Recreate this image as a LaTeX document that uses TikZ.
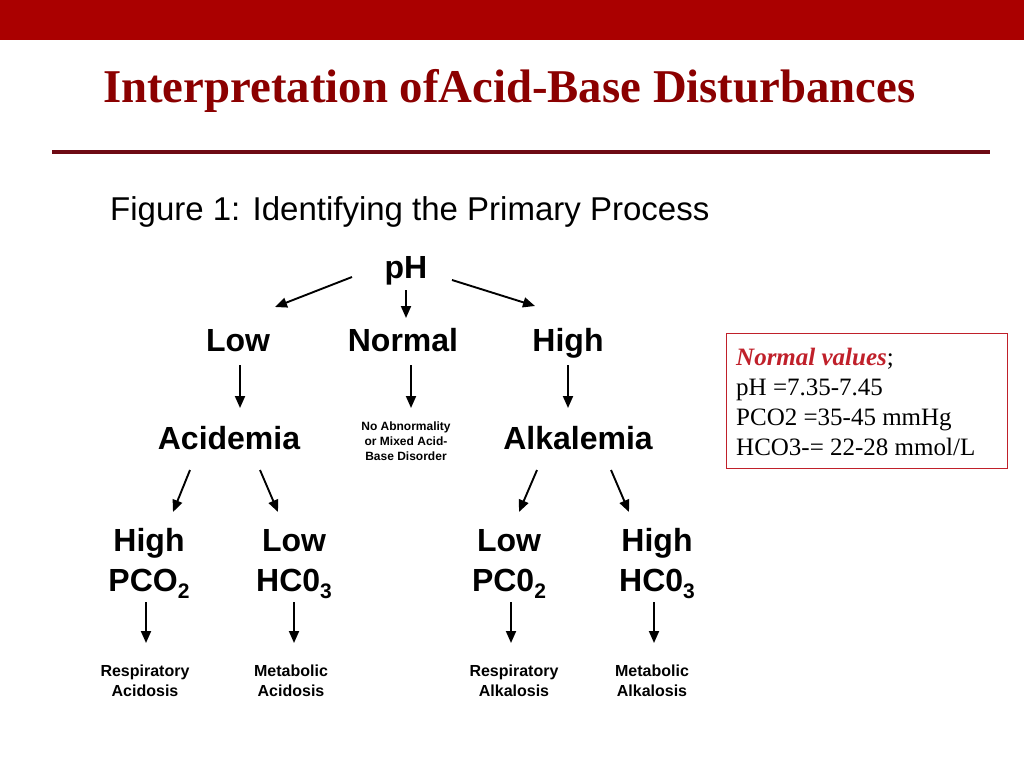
\documentclass[tikz,border=0pt]{standalone}
\usepackage{fontspec}
\setmainfont{Liberation Serif}
\newfontfamily\arialf{Liberation Sans}
\usetikzlibrary{arrows.meta,calc}
\definecolor{barred}{HTML}{AA0000}
\definecolor{titlered}{HTML}{8B0000}
\definecolor{rulered}{HTML}{6E0A14}
\definecolor{boxred}{HTML}{C0202A}
\begin{document}
\begin{tikzpicture}[x=1pt,y=-1pt,
  big/.style={font=\arialf\bfseries\fontsize{32}{32}\selectfont, inner sep=0pt, anchor=base},
  small/.style={font=\arialf\bfseries\fontsize{16}{16}\selectfont, inner sep=0pt, anchor=base},
  tiny/.style={font=\arialf\bfseries\fontsize{12}{12}\selectfont, inner sep=0pt, anchor=base},
  boxtxt/.style={font=\fontsize{25}{25}\selectfont, inner sep=0pt, anchor=base west},
  arr/.style={-{Triangle[length=12pt,width=10pt]}, line width=1.9pt, black}]
\useasboundingbox (0,0) rectangle (1024,768);
\fill[white] (0,0) rectangle (1024,768);
\fill[barred] (0,0) rectangle (1024,40);
\node[anchor=base west, inner sep=0pt, text=titlered, font=\bfseries\fontsize{47}{47}\selectfont] (title) at (103,102) {\scalebox{0.995}[1]{Interpretation ofAcid-Base Disturbances}};
\draw[rulered, line width=4pt] (52,152) -- (990,152);
\node[anchor=base west, inner sep=0pt, font=\arialf\fontsize{33}{33}\selectfont] (fig) at (110,220) {Figure 1: Identifying the Primary Process};
% tree nodes
\node[big] (ph) at (406,278) {pH};
\node[big] (low) at (238,351) {Low};
\node[big] (normal) at (403,351) {Normal};
\node[big] (high) at (568,351) {High};
\node[big] (acid) at (229,449) {Acidemia};
\node[big] (alk) at (578,449) {Alkalemia};
\node[tiny] (na1) at (406,430) {No Abnormality};
\node[tiny] (na2) at (406,445) {or Mixed Acid-};
\node[tiny] (na3) at (406,460) {Base Disorder};
\newcommand{\subtwo}[1]{\raisebox{-7pt}{\fontsize{21}{21}\selectfont #1}}
\node[big] (hh1) at (149,551) {High};
\node[big] (lh1) at (294,551) {Low};
\node[big] (lp1) at (509,551) {Low};
\node[big] (hh2) at (657,551) {High};
\node[big] (pco) at (149,591) {PCO\subtwo{2}};
\node[big] (hco) at (294,591) {HC0\subtwo{3}};
\node[big] (pc0) at (509,591) {PC0\subtwo{2}};
\node[big] (hc0) at (657,591) {HC0\subtwo{3}};
\node[small] (ra1) at (145,676) {Respiratory};
\node[small] (ra2) at (145,696) {Acidosis};
\node[small] (ma1) at (291,676) {Metabolic};
\node[small] (ma2) at (291,696) {Acidosis};
\node[small] (ral1) at (514,676) {Respiratory};
\node[small] (ral2) at (514,696) {Alkalosis};
\node[small] (mal1) at (652,676) {Metabolic};
\node[small] (mal2) at (652,696) {Alkalosis};
% arrows
\draw[arr] ($(ph.base)+(-54,-1)$) -- ($(low.base)+(37,-44)$);
\draw[arr] ($(ph.base)+(0,12)$) -- ($(normal.base)+(3,-33)$);
\draw[arr] ($(ph.base)+(46,2)$) -- ($(high.base)+(-33,-45)$);
\draw[arr] ($(low.base)+(2,14)$) -- ($(acid.base)+(11,-41)$);
\draw[arr] ($(normal.base)+(8,14)$) -- ($(na1.base)+(5,-22)$);
\draw[arr] ($(high.base)+(0,14)$) -- ($(alk.base)+(-10,-41)$);
\draw[arr] ($(acid.base)+(-39,21)$) -- ($(hh1.base)+(24,-39)$);
\draw[arr] ($(acid.base)+(31,21)$) -- ($(lh1.base)+(-16,-39)$);
\draw[arr] ($(alk.base)+(-41,21)$) -- ($(lp1.base)+(10,-39)$);
\draw[arr] ($(alk.base)+(33,21)$) -- ($(hh2.base)+(-28,-39)$);
\draw[arr] ($(pco.base)+(-3,11)$) -- ($(ra1.base)+(1,-33)$);
\draw[arr] ($(hco.base)+(0,11)$) -- ($(ma1.base)+(3,-33)$);
\draw[arr] ($(pc0.base)+(2,11)$) -- ($(ral1.base)+(-3,-33)$);
\draw[arr] ($(hc0.base)+(-3,11)$) -- ($(mal1.base)+(2,-33)$);
% normal values box
\node[draw=boxred, line width=1.2pt, anchor=north west, inner sep=0pt, minimum width=281pt, minimum height=135pt] (box) at (726,333) {};
\node[boxtxt] (nv) at (736,365) {\textcolor{boxred}{\textbf{\textit{Normal values}}};};
\node[boxtxt] (nv1) at (736,395) {pH =7.35-7.45};
\node[boxtxt] (nv2) at (736,425) {PCO2 =35-45 mmHg};
\node[boxtxt] (nv3) at (736,455) {HCO3-= 22-28 mmol/L};
\end{tikzpicture}
\end{document}
